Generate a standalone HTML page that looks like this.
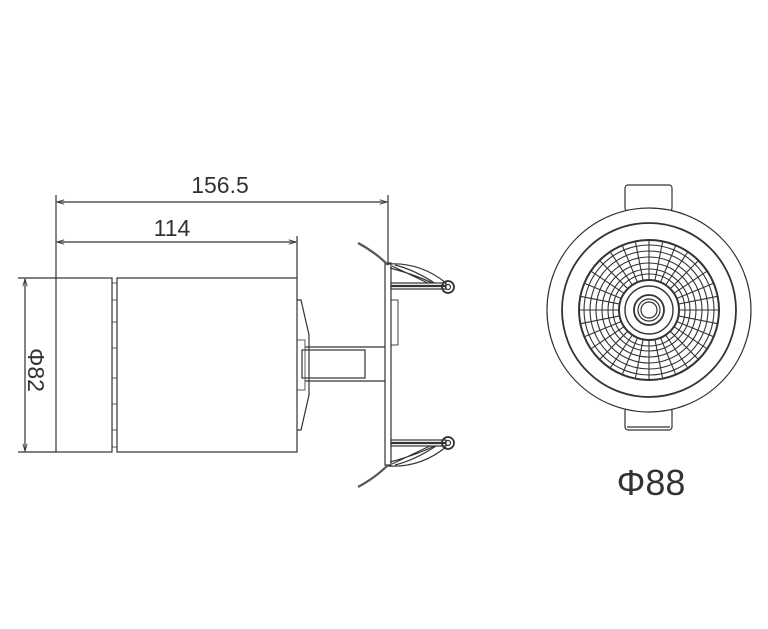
<!DOCTYPE html>
<html><head><meta charset="utf-8"><style>
html,body{margin:0;padding:0;background:#fff;width:768px;height:629px;overflow:hidden}
text{font-family:"Liberation Sans",sans-serif;fill:#333}
</style></head><body>
<svg width="768" height="629" viewBox="0 0 768 629" xmlns="http://www.w3.org/2000/svg">
<defs>
<marker id="a" viewBox="0 0 10 10" refX="10" refY="5" markerWidth="8" markerHeight="6" orient="auto-start-reverse"><path d="M0,2 L10,5 L0,8" fill="none" stroke="#333" stroke-width="1.2"/></marker>
</defs>
<g stroke="#333" stroke-width="1.2" fill="none">
<line x1="56" y1="195" x2="56" y2="278"/>
<line x1="388" y1="195" x2="388" y2="265"/>
<line x1="297" y1="236" x2="297" y2="278"/>
<line x1="57" y1="202" x2="387" y2="202" marker-start="url(#a)" marker-end="url(#a)"/>
<line x1="57" y1="242" x2="296" y2="242" marker-start="url(#a)" marker-end="url(#a)"/>
<line x1="18" y1="278" x2="56" y2="278"/>
<line x1="18" y1="452" x2="56" y2="452"/>
<line x1="25" y1="279" x2="25" y2="451" marker-start="url(#a)" marker-end="url(#a)"/>
<rect x="56" y="278" width="56" height="174"/>
<rect x="117" y="278" width="180" height="174"/>
<rect x="112" y="283" width="5" height="164" stroke-width="0.8"/>
<g stroke-width="0.8">
<line x1="112" y1="300" x2="117" y2="300"/><line x1="112" y1="322" x2="117" y2="322"/>
<line x1="112" y1="348" x2="117" y2="348"/><line x1="112" y1="378" x2="117" y2="378"/>
<line x1="112" y1="404" x2="117" y2="404"/><line x1="112" y1="430" x2="117" y2="430"/>
</g>
<path d="M297,300 L301,300 L309,335 L309,395 L301,430 L297,430"/>
<rect x="297" y="340" width="8" height="50" stroke-width="0.8"/>
<rect x="302" y="350" width="63" height="28"/>
<line x1="305" y1="347" x2="385" y2="347"/>
<line x1="305" y1="381" x2="385" y2="381"/>
<rect x="385" y="263" width="6" height="202"/>
<rect x="391" y="300" width="7" height="45" stroke-width="0.9"/>
<path d="M358,243 Q375,252 388,265" stroke-width="2.2" stroke="#555"/>
<path d="M388,264 Q420,262 446,283 M390,268 Q420,276 440,287 M392,266 L432,285 M395,265 Q415,270 436,284" stroke-width="1.2"/>
<rect x="391" y="283" width="55" height="6" fill="#fff"/>
<line x1="391" y1="286" x2="446" y2="286" stroke-width="2.2"/>
<circle cx="448" cy="287" r="6" stroke-width="1.8"/><circle cx="448" cy="287" r="2.5"/>
<path d="M358,487 Q375,478 388,465" stroke-width="2.2" stroke="#555"/>
<path d="M388,466 Q420,468 446,447 M390,462 Q420,454 440,443 M392,464 L432,445 M395,465 Q415,460 436,446" stroke-width="1.2"/>
<rect x="391" y="440" width="55" height="6" fill="#fff"/>
<line x1="391" y1="443" x2="446" y2="443" stroke-width="2.2"/>
<circle cx="448" cy="443" r="6" stroke-width="1.8"/><circle cx="448" cy="443" r="2.5"/>
<rect x="625" y="185" width="47" height="26" rx="3" fill="#fff"/>
<rect x="625" y="408" width="47" height="22" rx="3" fill="#fff"/>
<line x1="627" y1="427" x2="670" y2="427"/>
<circle cx="649" cy="310" r="102" fill="#fff"/>
<circle cx="649" cy="310" r="87" stroke-width="1.8"/>
<circle cx="649" cy="310" r="70" stroke-width="2"/>
<g stroke-width="1.1">
<circle cx="649" cy="310" r="65"/><circle cx="649" cy="310" r="59"/><circle cx="649" cy="310" r="53"/>
<circle cx="649" cy="310" r="47"/><circle cx="649" cy="310" r="41"/><circle cx="649" cy="310" r="36"/>
</g>
<g stroke-width="1.1">
<path d="M649,240 V280 M649,340 V380 M579,310 H619 M679,310 H719
M698.5,260.5 L670.2,288.8 M599.5,359.5 L627.8,331.2 M599.5,260.5 L627.8,288.8 M698.5,359.5 L670.2,331.2
M675.8,245.3 L660.5,282.3 M622.2,374.7 L637.5,337.7 M622.2,245.3 L637.5,282.3 M675.8,374.7 L660.5,337.7
M713.7,283.2 L676.7,298.5 M584.3,336.8 L621.3,321.5 M584.3,283.2 L621.3,298.5 M713.7,336.8 L676.7,321.5
M662.7,241.3 L654.9,280.6 M635.3,378.7 L643.1,339.4 M635.3,241.3 L643.1,280.6 M662.7,378.7 L654.9,339.4
M717.7,296.3 L678.4,304.1 M580.3,323.7 L619.6,315.9 M580.3,296.3 L619.6,304.1 M717.7,323.7 L678.4,315.9
M687.9,251.8 L665.7,285 M610.1,368.2 L632.3,335 M610.1,251.8 L632.3,285 M687.9,368.2 L665.7,335
M707.2,271.1 L674,293.3 M590.8,348.9 L624,326.7 M590.8,271.1 L624,293.3 M707.2,348.9 L674,326.7"/>
</g>
<circle cx="649" cy="310" r="30" stroke-width="2" fill="#fff"/>
<circle cx="649" cy="310" r="24" stroke-width="1.4"/>
<circle cx="649" cy="310" r="15" stroke-width="1.8"/>
<circle cx="649" cy="310" r="11" stroke-width="1.2"/>
<circle cx="649" cy="310" r="8"/>
</g>
<text x="220" y="193" font-size="23" text-anchor="middle">156.5</text>
<text x="172" y="236" font-size="23" text-anchor="middle">114</text>
<text x="0" y="0" font-size="23" text-anchor="middle" transform="translate(28,370) rotate(90)">Φ82</text>
<text x="651" y="495" font-size="36" text-anchor="middle">Φ88</text>
</svg>
</body></html>
